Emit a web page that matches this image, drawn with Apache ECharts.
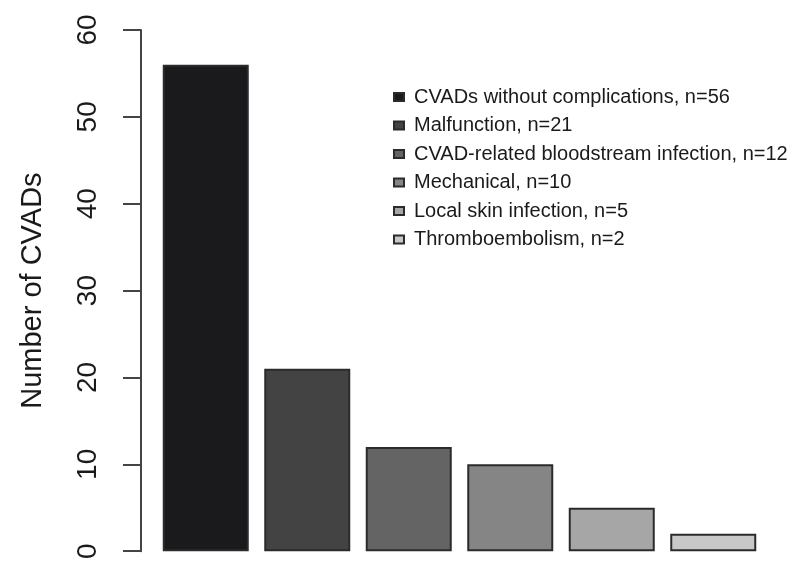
<!DOCTYPE html>
<html>
<head>
<meta charset="utf-8">
<script src="https://cdn.jsdelivr.net/npm/echarts@6/dist/echarts.min.js"></script>
<style>
    html, body { margin: 0; padding: 0; background: #fff; }
    #chart { width: 787px; height: 562px; }
</style>
</head>
<body>
<div id="chart"></div>
<script>
// data
var categories = ['CVADs without complications', 'Malfunction', 'CVAD-related bloodstream infection',
    'Mechanical', 'Local skin infection', 'Thromboembolism'];
var counts = [56, 21, 12, 10, 5, 2];
var yTicks = [0, 10, 20, 30, 40, 50, 60];
var grays = ['#1a1a1c', '#434343', '#646464', '#858585', '#a6a6a6', '#c8c8c8'];

var myChart = echarts.init(document.getElementById('chart'));

// one series per category so every bar gets its own legend entry
var series = categories.map(function (name, i) {
    return {
        name: name + ', n=' + counts[i],
        type: 'bar',
        stack: 'all',
        barWidth: 86,
        itemStyle: {
            color: grays[i],
            borderColor: '#2b2b2b',
            borderWidth: 2
        },
        data: counts.map(function (v, j) { return j === i ? v : '-'; })
    };
});

var option = {
    backgroundColor: '#fff',
    animation: false,
    textStyle: { fontFamily: 'Liberation Sans' },
    grid: { left: 155, right: 23, top: 30, bottom: 8, containLabel: false },
    legend: {
        orient: 'vertical',
        left: 388,
        top: 82,
        itemWidth: 10,
        itemHeight: 8,
        itemGap: 8.5,
        icon: 'rect',
        textStyle: { fontSize: 20, lineHeight: 20, color: '#1a1a1a', fontFamily: 'Liberation Sans', padding: [0, 0, 0, 5] },
        data: series.map(function (s) { return s.name; })
    },
    xAxis: {
        type: 'category',
        data: categories,
        show: false
    },
    yAxis: {
        type: 'value',
        min: yTicks[0],
        max: yTicks[yTicks.length - 1],
        interval: yTicks[1] - yTicks[0],
        offset: 14,
        name: 'Number of CVADs',
        nameLocation: 'middle',
        nameRotate: 90,
        nameGap: 94,
        nameTextStyle: { fontSize: 29, color: '#1a1a1a', fontFamily: 'Liberation Sans' },
        axisLine: { show: true, lineStyle: { color: '#444', width: 2 } },
        axisTick: { show: true, length: 18, lineStyle: { color: '#444', width: 2 } },
        axisLabel: { rotate: 90, margin: 39, fontSize: 28, color: '#1a1a1a', fontFamily: 'Liberation Sans' },
        splitLine: { show: false }
    },
    series: series
};

myChart.setOption(option);
</script>
</body>
</html>
